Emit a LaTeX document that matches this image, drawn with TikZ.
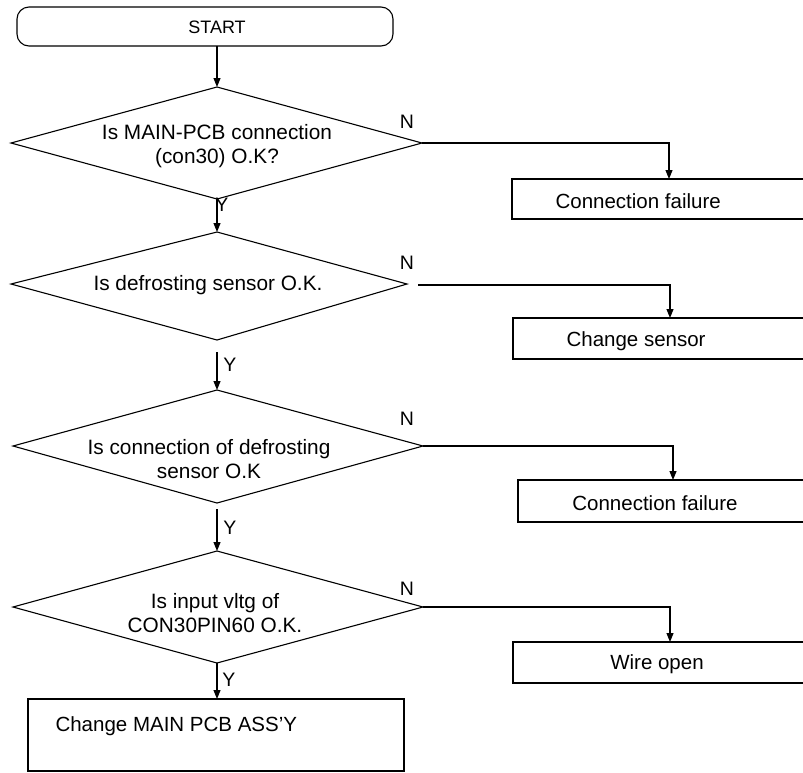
\documentclass[tikz,border=0pt]{standalone}
\usepackage{fontspec}
\setmainfont{Liberation Sans}
\usetikzlibrary{arrows.meta}
\begin{document}
\begin{tikzpicture}[x=1pt,y=-1pt,
  line width=1.1pt,
  arr/.style={-{Triangle[length=9pt,width=7pt]}},
  maintext/.style={font=\fontsize{20.8}{24}\selectfont, align=center, inner sep=0pt},
  lbl/.style={font=\fontsize{19.5}{20}\selectfont, inner sep=0pt},
  boxtext/.style={font=\fontsize{20.5}{24}\selectfont, inner sep=0pt}]
\useasboundingbox (0,0) rectangle (803,772);
\clip (0,0) rectangle (803,772);

% START
\draw[rounded corners=12pt] (17,7) rectangle (393,46);
\node[font=\fontsize{18}{20}\selectfont, inner sep=0pt] (start) at (217,27) {START};
\coordinate (startb) at (217,46);

% Diamond 1
\coordinate (d1t) at (217,87);
\coordinate (d1l) at (11,143);
\coordinate (d1r) at (422,143);
\coordinate (d1b) at (217,199);
\draw (d1t) -- (d1r) -- (d1b) -- (d1l) -- cycle;
\node[maintext] (d1) at (217,146) {Is MAIN-PCB connection\\(con30) O.K?};
\draw[arr] (startb) -- (d1t);
\node[lbl] (n1) at (407,122) {N};
\coordinate (b1t) at (669,179);
\draw (512,179) rectangle (810,219);
\node[boxtext, anchor=west] (b1) at (555,201) {Connection failure};
\draw[arr] (d1r) -| (b1t);

% Diamond 2
\coordinate (d2t) at (217,232);
\coordinate (d2l) at (11,284);
\coordinate (d2r) at (407,284);
\coordinate (d2b) at (217,340);
\draw (d2t) -- (d2r) -- (d2b) -- (d2l) -- cycle;
\node[maintext] (d2) at (208,285) {Is defrosting sensor O.K.};
\node[lbl] (y1) at (222,205) {Y};
\draw[arr] (d1b) -- (d2t);
\node[lbl] (n2) at (407,263) {N};
\coordinate (n2s) at (418,285);
\coordinate (b2t) at (670,318);
\draw (513,318) rectangle (810,359);
\node[boxtext, anchor=west] (b2) at (566,341) {Change sensor};
\draw[arr] (n2s) -| (b2t);

% Diamond 3
\coordinate (d3t) at (217,390);
\coordinate (d3l) at (13,446);
\coordinate (d3r) at (423,446);
\coordinate (d3b) at (217,503);
\draw (d3t) -- (d3r) -- (d3b) -- (d3l) -- cycle;
\node[maintext] (d3) at (209,459) {Is connection of defrosting\\sensor O.K};
\coordinate (y2s) at (217,352);
\draw[arr] (y2s) -- (d3t);
\node[lbl] (y2) at (230,365) {Y};
\node[lbl] (n3) at (407,419) {N};
\coordinate (b3t) at (673,480);
\draw (518,480) rectangle (810,522);
\node[boxtext] (b3) at (655,503) {Connection failure};
\draw[arr] (d3r) -| (b3t);

% Diamond 4
\coordinate (d4t) at (217,551);
\coordinate (d4l) at (13,607);
\coordinate (d4r) at (423,607);
\coordinate (d4b) at (217,663);
\draw (d4t) -- (d4r) -- (d4b) -- (d4l) -- cycle;
\node[maintext] (d4) at (215,613) {Is input vltg of\\CON30PIN60 O.K.};
\coordinate (y3s) at (217,509);
\draw[arr] (y3s) -- (d4t);
\node[lbl] (y3) at (230,528) {Y};
\node[lbl] (n4) at (407,589) {N};
\coordinate (b4t) at (670,642);
\draw (513,642) rectangle (810,683);
\node[boxtext] (b4) at (657,664) {Wire open};
\draw[arr] (d4r) -| (b4t);

% Final box
\coordinate (b5t) at (217,699);
\draw (28,699) rectangle (404,771);
\node[boxtext, anchor=west] (b5) at (55,726) {Change MAIN PCB ASS’Y};
\draw[arr] (d4b) -- (b5t);
\node[lbl] (y4) at (229,680) {Y};
\end{tikzpicture}
\end{document}
